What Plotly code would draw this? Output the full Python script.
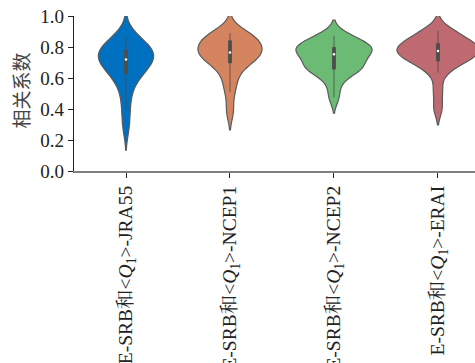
import numpy as np
import plotly.graph_objects as go

categories = [
    "E-SRB和&lt;<i>Q</i><sub>1</sub>&gt;-JRA55",
    "E-SRB和&lt;<i>Q</i><sub>1</sub>&gt;-NCEP1",
    "E-SRB和&lt;<i>Q</i><sub>1</sub>&gt;-NCEP2",
    "E-SRB和&lt;<i>Q</i><sub>1</sub>&gt;-ERAI",
]

jra55 = [0.285, 0.40, 0.50, 0.57, 0.62, 0.635, 0.66, 0.68, 0.70, 0.71,
         0.73, 0.74, 0.75, 0.76, 0.77, 0.79, 0.80, 0.82, 0.84, 0.87]
ncep1 = [0.385, 0.51, 0.58, 0.64, 0.69, 0.705, 0.72, 0.74, 0.75, 0.76,
         0.77, 0.78, 0.79, 0.81, 0.835, 0.845, 0.855, 0.87, 0.88, 0.89]
ncep2 = [0.474, 0.56, 0.63, 0.65, 0.655, 0.66, 0.68, 0.70, 0.72, 0.74,
         0.765, 0.77, 0.78, 0.79, 0.795, 0.80, 0.82, 0.84, 0.86, 0.873]
erai = [0.405, 0.52, 0.634, 0.68, 0.70, 0.72, 0.73, 0.745, 0.76, 0.77,
        0.78, 0.785, 0.79, 0.80, 0.815, 0.83, 0.85, 0.87, 0.89, 0.905]

series = [jra55, ncep1, ncep2, erai]
bandwidths = [0.075, 0.06, 0.05, 0.054]
violin_widths = [0.53, 0.615, 0.73, 0.79]
colors = ["#0070C0", "#D4845E", "#6BBB74", "#BE6A70"]

yticks = [0.0, 0.2, 0.4, 0.6, 0.8, 1.0]
ytick_text = ["0.0", "0.2", "0.4", "0.6", "0.8", "1.0"]
ytitle = "相关系数"

PX_PER_CAT = 104.0

fig = go.Figure()
for i, (cat, vals, bw, w, col) in enumerate(zip(categories, series, bandwidths, violin_widths, colors)):
    fig.add_trace(go.Violin(
        x=[cat] * len(vals), y=vals,
        bandwidth=bw, spanmode="soft",
        scalegroup="g%d" % i, scalemode="width",
        width=w,
        fillcolor=col, opacity=1,
        line=dict(color="#5a5a5a", width=1.2),
        points=False,
        box=dict(visible=True, width=3.0 / (w * PX_PER_CAT), fillcolor="#4d4d4d",
                 line=dict(color="#4d4d4d", width=0.8)),
        meanline=dict(visible=False),
        showlegend=False, hoverinfo="skip",
    ))
    fig.add_trace(go.Scatter(
        x=[cat], y=[float(np.median(vals))], mode="markers",
        marker=dict(color="white", size=2.5), showlegend=False, hoverinfo="skip",
    ))

fig.update_layout(
    width=475, height=363,
    margin=dict(l=74, r=0, t=16, b=192, autoexpand=False),
    plot_bgcolor="white", paper_bgcolor="white",
    font=dict(family="Liberation Serif, Noto Serif CJK SC, Noto Sans CJK SC", size=19, color="#222"),
    violingap=0, violinmode="overlay",
)
fig.update_xaxes(
    type="category", categoryorder="array", categoryarray=categories,
    range=[-0.5, 3.356], automargin=False,
    showline=True, linecolor="#808080", linewidth=2,
    ticks="outside", ticklen=5, tickcolor="#222", tickwidth=1.2,
    tickangle=-90, tickfont=dict(size=19.5),
    showgrid=False, zeroline=False,
)
fig.update_yaxes(
    range=[0, 1.0], tickvals=yticks, ticktext=ytick_text, automargin=False,
    showline=True, linecolor="#222", linewidth=1.2,
    ticks="outside", ticklen=5, tickcolor="#222", tickwidth=1.2,
    tickfont=dict(size=19),
    showgrid=False, zeroline=False,
)
fig.add_annotation(
    text=ytitle, xref="paper", yref="paper",
    x=(20 - 74) / 401.0, y=0.52, xanchor="center", yanchor="middle",
    textangle=-90, showarrow=False,
    font=dict(family="Noto Sans CJK SC", size=19, color="#444"),
)
fig.write_html("out.html", config={"displayModeBar": False},
               post_script="document.body.style.margin='0px';")
